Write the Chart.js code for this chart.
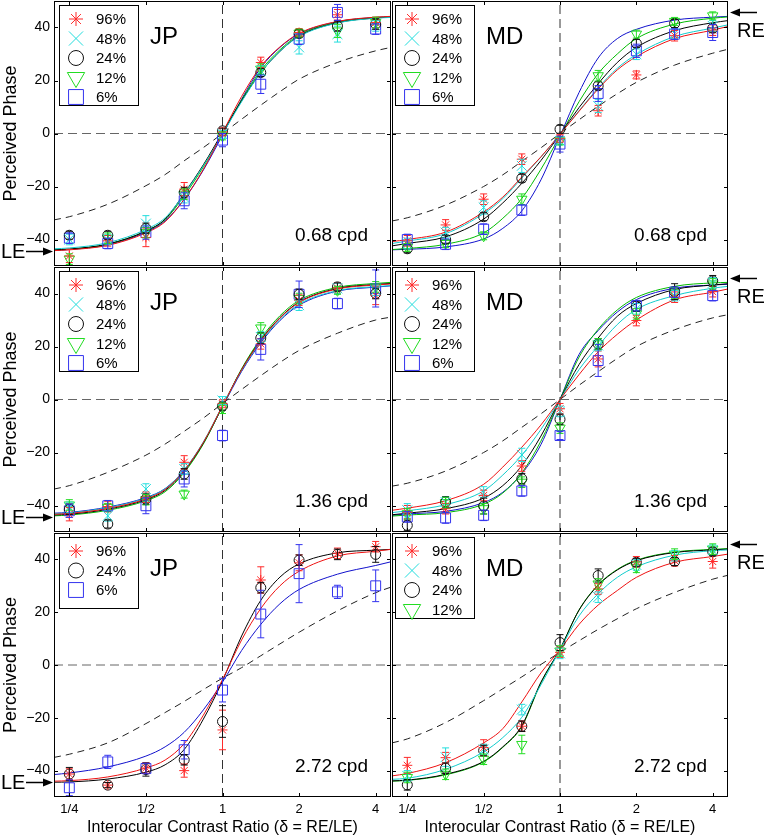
<!DOCTYPE html>
<html>
<head>
<meta charset="utf-8">
<script src="https://cdn.jsdelivr.net/npm/chart.js@4.4.0/dist/chart.umd.min.js"></script>
<style>
  html, body { margin: 0; padding: 0; background: #fff; overflow: hidden; }
  #wrap { position: relative; width: 765px; height: 837px; }
  #wrap canvas { position: absolute; left: 0; top: 0; }
</style>
</head>
<body>
<div id="wrap"></div>
<script>
// ---- data ----
const contrasts = ['96%', '48%', '24%', '12%', '6%'];
const ratios = [0.25, 0.354, 0.5, 0.707, 1, 1.414, 2, 2.83, 4];
const fitRatios = [0.2176, 0.25, 0.354, 0.5, 0.595, 0.707, 0.841, 1, 1.189, 1.414, 1.682, 2, 2.83, 4, 4.595];
const xTicks = [0.25, 0.5, 1, 2, 4];
const xTickLabels = ['1/4', '1/2', '1', '2', '4'];
const yTicks = [-40, -20, 0, 20, 40];
const leArrow = -44.5, reArrow = 46;

// JP, 0.68 cpd  (rows: 96, 48, 24, 12, 6 %)
const phaseJP068 = [
  [-46.2, -40.5, -39.2, -21.0, 0.6, 26.8, 38.1, 44.8, 41.9],
  [-40.0, -40.0, -34.0, -24.2, -0.3, 23.6, 32.5, 37.5, 40.6],
  [-38.4, -38.4, -35.8, -22.3, 1.0, 23.0, 37.7, 40.6, 41.3],
  [-47.4, -39.5, -37.4, -22.9, -0.9, 24.3, 37.9, 38.7, 41.9],
  [-39.5, -41.5, -37.4, -25.4, -2.5, 18.6, 35.6, 45.7, 39.4]
];
const errJP068 = [
  [2.5, 2, 3.5, 2.5, 1.5, 2, 1.5, 2, 2],
  [2, 2, 3, 2, 1.5, 2, 2.5, 3, 2],
  [1.5, 1.5, 2, 2, 1, 1.5, 1.5, 2, 2],
  [2, 2, 2, 2, 1.5, 2, 1.5, 2.5, 2],
  [2, 2, 2.5, 3, 2.5, 3.5, 2, 3, 2]
];
const fitJP068 = [
  [-44.2, -43.9, -42.2, -37.5, -33.3, -24.8, -13.5, 0.3, 14.0, 25.3, 32.7, 37.8, 42.3, 43.9, 44.2],
  [-43.5, -43.2, -41.2, -36.2, -31.8, -22.8, -12.2, -0.2, 12.0, 23.0, 31.0, 36.6, 41.7, 43.5, 43.8],
  [-43.9, -43.6, -41.7, -36.8, -32.3, -22.6, -11.8, 0.4, 12.4, 23.0, 31.0, 36.8, 41.8, 43.6, 43.9],
  [-44.0, -43.7, -41.8, -36.8, -32.5, -23.5, -12.6, 0.0, 12.7, 23.8, 31.6, 37.2, 42.0, 43.7, 44.0],
  [-44.1, -43.8, -42.0, -37.2, -33.0, -24.8, -13.8, -0.6, 13.0, 24.8, 32.5, 37.6, 42.2, 43.8, 44.1]
];
const dashJP068 = [-32.6, -31.4, -26.7, -19.7, -15.5, -10.3, -5.3, 0, 5.4, 10.7, 15.8, 20.5, 26.8, 31.2, 32.5];

// MD, 0.68 cpd
const phaseMD068 = [
  [-40.5, -34.5, -24.8, -9.7, -1.8, 8.6, 22.1, 36.9, 39.0],
  [-41.5, -37.4, -27.9, -12.2, -2.8, 10.4, 29.9, 37.7, 40.6],
  [-43.5, -39.9, -31.4, -16.9, 1.6, 18.0, 34.0, 41.5, 39.7],
  [-43.0, -41.5, -38.6, -24.8, -2.8, 21.8, 37.5, 42.3, 44.4],
  [-40.0, -41.8, -36.1, -28.9, -4.0, 15.1, 31.2, 37.5, 38.1]
];
const errMD068 = [
  [2, 2, 2, 2, 1.5, 2, 1.5, 2, 2],
  [2, 2, 2.5, 2.5, 1.5, 2.5, 2, 2, 2],
  [1.5, 1.5, 1.5, 1.5, 1.5, 1.5, 1.5, 1.5, 1.5],
  [1.5, 1.5, 1.5, 2, 1.5, 2, 1.5, 1.5, 1.5],
  [2, 2, 2, 2, 3, 3, 2.5, 2, 3]
];
const fitMD068 = [
  [-40.8, -40.0, -37.2, -29.6, -24.0, -16.4, -8.8, -0.3, 8.4, 16.8, 24.0, 29.0, 35.8, 39.0, 40.4],
  [-41.5, -40.6, -37.8, -30.2, -24.6, -16.8, -8.9, -0.3, 8.6, 17.2, 24.6, 29.8, 36.6, 39.8, 41.0],
  [-42.4, -41.5, -39.0, -32.3, -26.2, -18.8, -10.2, -0.3, 9.8, 18.8, 26.8, 32.5, 38.8, 41.8, 42.6],
  [-43.8, -43.4, -41.8, -37.5, -32.0, -24.5, -13.5, -0.9, 12.0, 22.6, 30.0, 35.8, 41.3, 43.5, 44.0],
  [-43.9, -43.7, -42.8, -39.8, -35.8, -29.2, -17.5, -1.0, 15.5, 28.5, 35.8, 39.3, 42.8, 43.9, 44.2]
];
const dashMD068 = [-33, -31.8, -27, -20, -15.6, -10.5, -5.4, 0, 5.2, 10.3, 15, 19.3, 25.8, 30.3, 31.8];

// JP, 1.36 cpd
const phaseJP136 = [
  [-43.3, -40.4, -36.9, -23.7, -1.6, 21.0, 37.5, 42.1, 39.3],
  [-40.7, -43.9, -33.8, -26.2, -0.4, 23.6, 35.6, 41.9, 41.2],
  [-41.4, -47.0, -37.6, -28.1, -2.5, 23.2, 39.7, 42.5, 40.0],
  [-39.8, -40.7, -37.8, -35.7, -3.3, 27.0, 38.1, 41.2, 42.5],
  [-42.0, -40.1, -40.1, -30.0, -13.6, 18.9, 39.7, 36.2, 41.9]
];
const errJP136 = [
  [2.5, 2, 2, 2.5, 1.5, 2, 2, 2, 3.5],
  [2, 2, 2, 2, 1.5, 2, 2, 2, 2],
  [2, 1.5, 2, 2, 1.5, 2, 2, 1.5, 2],
  [2, 1.5, 2, 1.5, 2, 2, 2, 1.5, 2],
  [2.5, 2, 3, 3, 2, 4, 5, 2, 7]
];
const fitJP136 = [
  [-43.3, -43.0, -41.1, -37.5, -34.0, -26.8, -16.2, -2.4, 11.2, 22.2, 30.7, 36.6, 41.7, 43.2, 43.6],
  [-43.1, -42.8, -40.8, -37.2, -33.7, -26.6, -16.0, -2.3, 11.0, 21.8, 30.2, 36.0, 41.1, 42.6, 43.0],
  [-43.6, -43.3, -41.4, -37.8, -34.3, -27.1, -16.4, -2.5, 11.3, 22.4, 30.9, 36.8, 41.9, 43.4, 43.8],
  [-43.9, -43.6, -41.8, -38.2, -34.8, -27.6, -16.8, -2.6, 11.6, 23.0, 31.6, 37.4, 42.3, 43.8, 44.2],
  [-42.9, -42.6, -40.6, -37.0, -33.6, -26.6, -16.3, -2.8, 10.6, 21.4, 29.8, 35.6, 40.9, 42.4, 42.9]
];
const dashJP136 = [-33.8, -32.5, -27.5, -21, -16.8, -12, -7, -1.5, 3.8, 9, 14, 18.5, 25, 30, 31.1];

// MD, 1.36 cpd
const phaseMD136 = [
  [-42.5, -41.2, -36.2, -25.1, -3.5, 15.3, 29.8, 38.6, 40.7],
  [-41.8, -38.7, -34.9, -20.9, -4.5, 20.4, 34.2, 39.2, 44.0],
  [-47.5, -38.7, -40.2, -29.9, -7.5, 21.0, 35.2, 40.7, 44.8],
  [-43.1, -38.9, -41.2, -31.2, -10.8, 21.0, 32.3, 40.2, 43.6],
  [-44.3, -44.7, -43.7, -34.5, -13.6, 14.7, 35.4, 40.5, 39.2]
];
const errMD136 = [
  [2.5, 2, 2, 2, 2, 3, 2, 2, 2],
  [2.5, 2, 2, 2.5, 2, 2, 2, 2, 2],
  [2, 2, 3, 2, 2, 2, 2, 3, 2],
  [2, 2, 2, 2, 2, 2, 2, 2, 2],
  [2, 2, 2, 2, 1.5, 6, 2, 2, 2]
];
const fitMD136 = [
  [-41.8, -41.0, -38.2, -32.0, -25.5, -18.0, -9.6, 0, 9.4, 18.0, 24.6, 30.0, 37.6, 40.5, 41.7],
  [-42.7, -42.0, -39.7, -34.5, -28.5, -21.0, -11.3, 0, 11.3, 20.2, 28.3, 34.0, 39.2, 42.0, 42.7],
  [-43.5, -42.9, -41.2, -37.2, -32.5, -25.0, -13.8, 0, 13.2, 23.2, 31.4, 36.2, 41.5, 43.2, 43.7],
  [-44.0, -43.6, -42.7, -39.5, -35.3, -27.7, -15.7, 0, 16.0, 26.5, 33.8, 38.5, 42.7, 44.0, 44.2],
  [-43.7, -43.2, -42.2, -38.9, -35.0, -28.0, -17.0, 0, 17.0, 26.0, 33.0, 37.7, 42.0, 43.2, 43.5]
];
const dashMD136 = [-32.7, -31.6, -27, -20, -15.6, -10.5, -5.4, 0, 5.4, 10.5, 15.5, 20, 26.3, 30.8, 32];

// JP, 2.72 cpd  (rows: 96, 24, 6 %)
const seriesJP272 = [0, 2, 4];
const phaseJP272 = [
  [-41.3, -45.5, -39.0, -40.0, -24.6, 32.2, 38.7, 42.3, 44.8],
  [-41.3, -45.5, -39.6, -35.9, -21.4, 29.3, 39.7, 41.9, 41.9],
  [-46.5, -36.7, -39.2, -32.1, -9.5, 19.3, 34.6, 27.7, 30.0]
];
const errJP272 = [
  [2, 1, 2, 2.5, 7.5, 5, 3, 2, 2],
  [2.5, 1, 2.5, 2, 6, 2, 2, 2, 3],
  [3, 2.5, 2, 3.5, 4.5, 9, 11, 2.5, 6]
];
const fitJP272 = [
  [-44.0, -43.8, -42.4, -39.0, -36.0, -29.8, -19.0, -5.5, 9.5, 21.4, 30.0, 35.5, 41.3, 43.1, 43.8],
  [-44.4, -44.3, -43.2, -40.6, -37.8, -32.0, -20.5, -6.0, 11.0, 24.5, 33.3, 38.3, 42.5, 43.5, 43.8],
  [-41.5, -40.9, -38.6, -34.5, -31.0, -25.5, -17.0, -6.5, 5.5, 15.4, 23.2, 28.6, 34.4, 37.7, 39.1]
];
const dashJP272 = [-35, -33.8, -29.5, -22.2, -18, -13.8, -9.3, -5, -1, 3.5, 8, 12.4, 20.5, 27.4, 29.5];

// MD, 2.72 cpd  (rows: 96, 48, 24, 12 %)
const seriesMD272 = [0, 1, 2, 3];
const phaseMD272 = [
  [-38.0, -35.1, -31.3, -23.2, 4.8, 28.8, 39.1, 39.5, 39.2],
  [-42.0, -34.9, -32.0, -16.9, 4.4, 25.7, 37.9, 41.4, 43.5],
  [-45.4, -39.1, -32.4, -23.2, 8.5, 33.9, 38.9, 39.2, 42.9],
  [-42.6, -41.4, -35.7, -30.1, 5.3, 30.7, 37.0, 42.0, 43.9]
];
const errMD272 = [
  [3, 2, 3, 2, 2, 2, 2, 2, 2.5],
  [2, 3.5, 2, 2, 2, 2, 2, 2, 2],
  [2, 2, 2, 2, 3, 2.5, 1.5, 1.5, 1.5],
  [2, 2, 2, 3.5, 2, 2, 2, 2, 2]
];
const fitMD272 = [
  [-42.0, -41.1, -37.0, -29.5, -24.1, -14.0, -3.0, 5.8, 15.4, 22.7, 28.2, 33.2, 38.9, 41.1, 42.0],
  [-43.3, -42.9, -39.5, -32.9, -27.5, -19.8, -7.5, 5.8, 18.6, 27.0, 33.2, 37.2, 41.6, 43.3, 43.6],
  [-43.9, -43.6, -41.4, -36.5, -31.0, -23.0, -6.5, 6.0, 20.8, 30.2, 36.0, 39.5, 42.6, 43.6, 43.9],
  [-44.0, -43.7, -41.6, -36.7, -31.2, -23.3, -6.8, 6.0, 20.9, 30.4, 36.2, 39.7, 42.8, 43.8, 44.1]
];
const dashMD272 = [-29.5, -28, -21.8, -13.5, -9, -4.5, 0.2, 4.8, 9.2, 13.5, 17.5, 21.3, 27.5, 32.5, 34];

// ---- look ----
const FONT = "'Liberation Sans', Arial, sans-serif";
Chart.defaults.font.family = FONT;
Chart.defaults.color = '#000';
const xMin = fitRatios[0], xMax = fitRatios[fitRatios.length - 1];

const styles = [
  {color: '#ff2a2a', line: '#ee1111', shape: 'star', r: 5, lr: 7, rot: 0},
  {color: '#22dddd', line: '#11cccc', shape: 'crossRot', r: 7, lr: 10, rot: 0},
  {color: '#111111', line: '#000000', shape: 'circle', r: 5, lr: 7.5, rot: 0},
  {color: '#22dd22', line: '#00bb00', shape: 'triangle', r: 6, lr: 10, rot: 180},
  {color: '#3333ee', line: '#1111cc', shape: 'rect', r: 7, lr: 10.5, rot: 0}
];

const all5 = [0, 1, 2, 3, 4];
const panels = [
  {subject: 'JP', cpd: '0.68 cpd', row: 0, col: 0, series: all5, phase: phaseJP068, err: errJP068, fit: fitJP068, dash: dashJP068, legendH: 100},
  {subject: 'MD', cpd: '0.68 cpd', row: 0, col: 1, series: all5, phase: phaseMD068, err: errMD068, fit: fitMD068, dash: dashMD068, legendH: 100},
  {subject: 'JP', cpd: '1.36 cpd', row: 1, col: 0, series: all5, phase: phaseJP136, err: errJP136, fit: fitJP136, dash: dashJP136, legendH: 100},
  {subject: 'MD', cpd: '1.36 cpd', row: 1, col: 1, series: all5, phase: phaseMD136, err: errMD136, fit: fitMD136, dash: dashMD136, legendH: 100},
  {subject: 'JP', cpd: '2.72 cpd', row: 2, col: 0, series: seriesJP272, phase: phaseJP272, err: errJP272, fit: fitJP272, dash: dashJP272, legendH: 71},
  {subject: 'MD', cpd: '2.72 cpd', row: 2, col: 1, series: seriesMD272, phase: phaseMD272, err: errMD272, fit: fitMD272, dash: dashMD272, legendH: 81}
];
const rowTop = [1, 267, 533];
const rowBottom = [266, 532, 797];

function drawArrow(ctx, x1, x2, yy) {
  const d = Math.sign(x2 - x1);
  ctx.beginPath();
  ctx.moveTo(x1, yy);
  ctx.lineTo(x2 - d * 6, yy);
  ctx.stroke();
  ctx.beginPath();
  ctx.moveTo(x2, yy);
  ctx.lineTo(x2 - d * 10, yy - 4);
  ctx.lineTo(x2 - d * 10, yy + 4);
  ctx.closePath();
  ctx.fill();
}

function panelPlugin(p) {
  const left = p.col === 0;
  return {
    id: 'panel' + p.row + p.col,
    afterDatasetsDraw(chart) {
      const {ctx, chartArea: a, scales: {x, y}} = chart;
      ctx.save();
      ctx.lineWidth = 1;
      // error bars
      chart.data.datasets.forEach(ds => {
        if (!ds.errs) return;
        ctx.strokeStyle = ds.pointBorderColor;
        ctx.beginPath();
        ds.data.forEach((pt, i) => {
          const px = x.getPixelForValue(pt.x);
          const ya = y.getPixelForValue(pt.y + ds.errs[i]);
          const yb = y.getPixelForValue(pt.y - ds.errs[i]);
          ctx.moveTo(px, ya); ctx.lineTo(px, yb);
          ctx.moveTo(px - 3.5, ya); ctx.lineTo(px + 3.5, ya);
          ctx.moveTo(px - 3.5, yb); ctx.lineTo(px + 3.5, yb);
        });
        ctx.stroke();
      });
      // box + inner ticks
      ctx.strokeStyle = '#000';
      ctx.strokeRect(a.left + 0.5, a.top + 0.5, a.right - a.left - 1, a.bottom - a.top - 1);
      ctx.beginPath();
      xTicks.forEach(v => {
        const px = Math.round(x.getPixelForValue(v)) + 0.5;
        ctx.moveTo(px, a.top); ctx.lineTo(px, a.top + 4);
        ctx.moveTo(px, a.bottom); ctx.lineTo(px, a.bottom - 4);
      });
      yTicks.forEach(v => {
        const py = Math.round(y.getPixelForValue(v)) + 0.5;
        ctx.moveTo(a.left, py); ctx.lineTo(a.left + 4, py);
        ctx.moveTo(a.right, py); ctx.lineTo(a.right - 4, py);
      });
      ctx.stroke();
      ctx.restore();
    },
    afterDraw(chart) {
      const {ctx, chartArea: a, scales: {y}} = chart;
      ctx.save();
      // legend box
      const bx = a.left + (left ? 5 : 3), by = a.top + 4, bw = 79;
      ctx.fillStyle = '#fff';
      ctx.fillRect(bx, by, bw, p.legendH);
      ctx.strokeStyle = '#000';
      ctx.lineWidth = 1;
      ctx.strokeRect(bx + 0.5, by + 0.5, bw, p.legendH);
      ctx.font = '15px ' + FONT;
      ctx.textAlign = 'left';
      ctx.textBaseline = 'middle';
      p.series.forEach((k, i) => {
        const st = styles[k], cy = by + 14 + i * 19.5;
        ctx.strokeStyle = st.color;
        ctx.fillStyle = 'rgba(0,0,0,0)';
        ctx.lineWidth = 1;
        Chart.helpers.drawPoint(ctx, {pointStyle: st.shape, radius: st.lr, rotation: st.rot, borderWidth: 1}, bx + 17, cy);
        ctx.fillStyle = '#000';
        ctx.fillText(contrasts[k], bx + 37, cy + 1);
      });
      // subject + spatial frequency
      ctx.fillStyle = '#000';
      ctx.font = '24px ' + FONT;
      ctx.textBaseline = 'alphabetic';
      ctx.fillText(p.subject, a.left + (left ? 96 : 94), a.top + 43);
      ctx.font = '19px ' + FONT;
      ctx.textAlign = 'right';
      ctx.fillText(p.cpd, a.right - (left ? 23 : 21), a.bottom - 25);
      // eye arrows
      ctx.strokeStyle = '#000';
      ctx.lineWidth = 1.5;
      ctx.textAlign = 'left';
      ctx.font = '20px ' + FONT;
      if (left) {
        const ay = Math.round(y.getPixelForValue(leArrow)) + 0.5;
        ctx.textBaseline = 'middle';
        ctx.fillText('LE', 1, ay + 1);
        drawArrow(ctx, 26, a.left - 1, ay);
      } else {
        const ay = Math.round(y.getPixelForValue(reArrow)) + 0.5;
        drawArrow(ctx, 757, a.right + 2, ay);
        ctx.textBaseline = 'alphabetic';
        ctx.fillText('RE', 737, ay + 24);
      }
      ctx.restore();
    }
  };
}

function makeChart(p) {
  const cv = document.createElement('canvas');
  cv.width = 765;
  cv.height = 837;
  document.getElementById('wrap').appendChild(cv);
  const left = p.col === 0, bottom = p.row === 2;

  const datasets = [];
  datasets.push({data: [{x: xMin, y: 0}, {x: xMax, y: 0}], borderColor: '#666', borderWidth: 1, borderDash: [9, 5], pointRadius: 0, order: 6});
  datasets.push({data: [{x: 1, y: -50}, {x: 1, y: 50}], borderColor: '#333', borderWidth: 1, borderDash: [9, 5], pointRadius: 0, order: 6});
  datasets.push({data: fitRatios.map((r, i) => ({x: r, y: p.dash[i]})), borderColor: '#222', borderWidth: 1,
    borderDash: [7, 5], pointRadius: 0, cubicInterpolationMode: 'monotone', order: 5});
  p.series.forEach((k, j) => {
    const st = styles[k];
    datasets.push({label: contrasts[k] + ' fit', data: fitRatios.map((r, i) => ({x: r, y: p.fit[j][i]})),
      borderColor: st.line, borderWidth: 1, pointRadius: 0, cubicInterpolationMode: 'monotone', order: 3});
    datasets.push({label: contrasts[k], data: ratios.map((r, i) => ({x: r, y: p.phase[j][i]})), errs: p.err[j],
      showLine: false, pointStyle: st.shape, pointRadius: st.r, pointRotation: st.rot,
      pointBorderColor: st.color, pointBackgroundColor: 'rgba(0,0,0,0)', pointBorderWidth: 1,
      borderColor: st.color, order: 1});
  });

  new Chart(cv, {
    type: 'line',
    data: {datasets},
    options: {
      responsive: false,
      animation: false,
      events: [],
      layout: {
        autoPadding: false,
        padding: {
          left: left ? 0 : 392,
          right: left ? 374 : 37,
          top: rowTop[p.row],
          bottom: bottom ? 0 : 837 - rowBottom[p.row]
        }
      },
      plugins: {legend: {display: false}, tooltip: {enabled: false}},
      scales: {
        x: {
          type: 'logarithmic', min: xMin, max: xMax, display: bottom,
          afterBuildTicks: s => { s.ticks = xTicks.map(v => ({value: v})); },
          afterFit: s => { if (bottom) { s.height = 40; } s.paddingLeft = 0; s.paddingRight = 0; },
          grid: {display: false, drawTicks: false},
          border: {display: false},
          ticks: {font: {size: 13}, color: '#000', padding: 5, autoSkip: false, maxRotation: 0,
            callback: (v, i) => xTickLabels[i]},
          title: {display: true, text: 'Interocular Contrast Ratio (δ = RE/LE)', font: {size: 16}, color: '#000', padding: 0}
        },
        y: {
          type: 'linear', min: -50, max: 50, display: left,
          afterBuildTicks: s => { s.ticks = yTicks.map(v => ({value: v})); },
          afterFit: s => { if (left) { s.width = 54; } s.paddingTop = 0; s.paddingBottom = 0; },
          grid: {display: false, drawTicks: false},
          border: {display: false},
          ticks: {font: {size: 14}, color: '#000', padding: 4,
            callback: v => (v < 0 ? '\u2212' + (-v) : String(v))},
          title: {display: true, text: 'Perceived Phase', font: {size: 18}, color: '#000', padding: 0}
        }
      }
    },
    plugins: [panelPlugin(p)]
  });
}

panels.forEach(makeChart);
</script>
</body>
</html>
